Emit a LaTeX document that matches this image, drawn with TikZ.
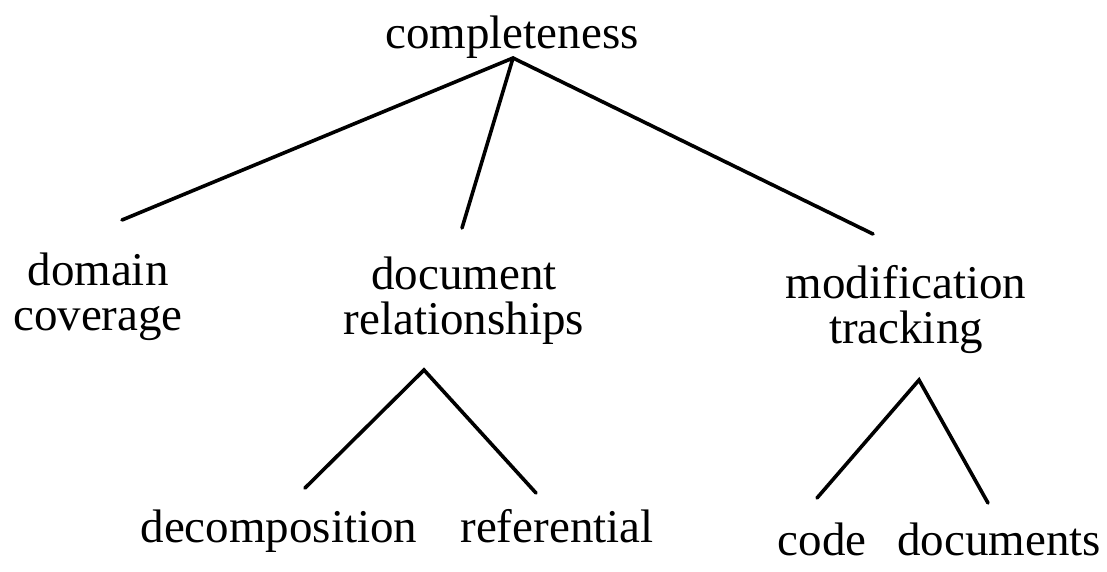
\documentclass[tikz,border=0pt]{standalone}
\usepackage{fontspec}
\setmainfont{Liberation Serif}
\begin{document}
\begin{tikzpicture}[x=1pt,y=-1pt,
  label/.style={inner sep=0pt,anchor=base,align=center,
    font=\fontsize{47}{45}\selectfont},
  branch/.style={line width=3.6pt,line cap=round}]
\useasboundingbox (0,0) rectangle (1107,571);

% tree labels (two-line labels are placed by the baseline of their last line)
\node[label] (root) at (512,48) {completeness};
\node[label] (dom)  at (98,330)  {domain\\coverage};
\node[label] (doc)  at (464,334) {document\\relationships};
\node[label] (mod)  at (906,343) {modification\\tracking};
\node[label] (dec)  at (279,542) {decomposition};
\node[label] (ref)  at (557,542) {referential};
\node[label] (code) at (822,555) {code};
\node[label] (docs) at (999,555) {documents};

% branch end points
\coordinate (rootTop) at (513,58);
\coordinate (domEnd)  at (122,220);
\coordinate (docEnd)  at (462,228);
\coordinate (modEnd)  at (873,234);
\coordinate (docTop)  at (424,370);
\coordinate (decEnd)  at (305,488);
\coordinate (refEnd)  at (536,493);
\coordinate (modTop)  at (919,380);
\coordinate (codeEnd) at (817,498);
\coordinate (docsEnd) at (988,503);

% branches
\draw[branch] (domEnd) -- (rootTop) -- (modEnd);
\draw[branch] (rootTop) -- (docEnd);
\draw[branch] (decEnd) -- (docTop) -- (refEnd);
\draw[branch] (codeEnd) -- (modTop) -- (docsEnd);
\end{tikzpicture}
\end{document}
